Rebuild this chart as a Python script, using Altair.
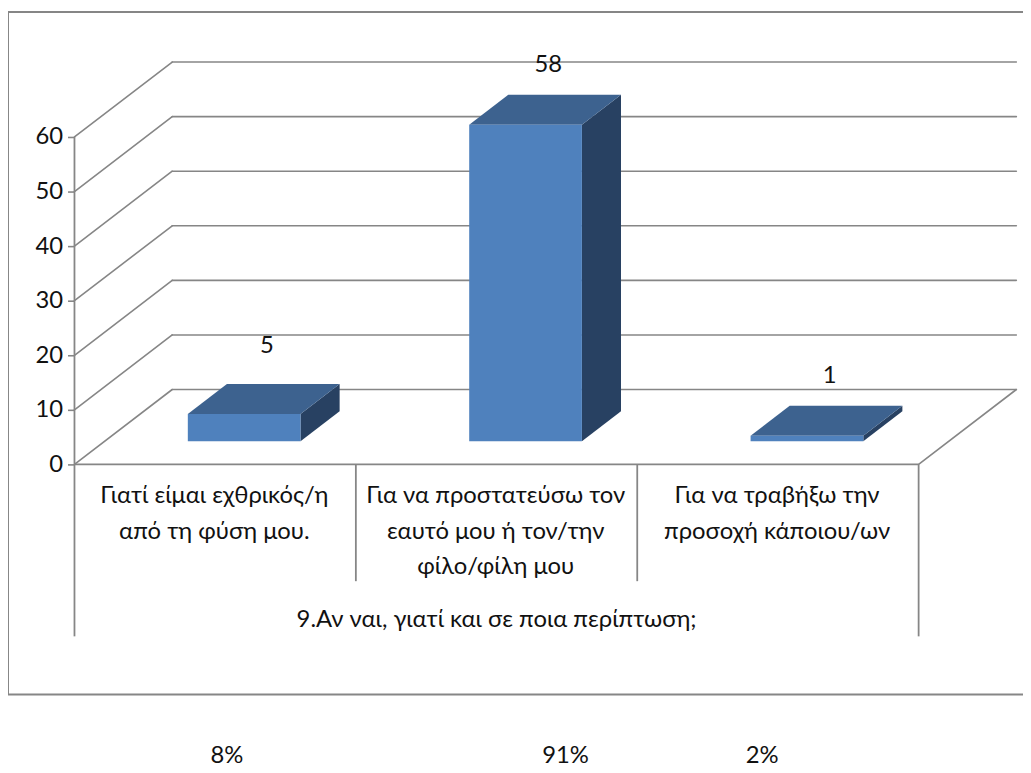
import altair as alt
import pandas as pd

# ---- chart values ----
categories = [
    ["Γιατί είμαι εχθρικός/η", "από τη φύση μου."],
    ["Για να προστατεύσω τον", "εαυτό μου ή τον/την", "φίλο/φίλη μου"],
    ["Για να τραβήξω την", "προσοχή κάποιου/ων"],
]
group_title = "9.Αν ναι, γιατί και σε ποια περίπτωση;"
values = [5, 58, 1]
percents = ["8%", "91%", "2%"]
percent_pos = [0.542, 1.745, 2.444]
y_ticks = [10, 20, 30, 40, 50, 60]

# ---- layout ----
W, H = 1023, 762
PX_CAT = 283.6          # pixels per category
PX_UNIT = 5.5           # pixels per value unit
X0, Y0 = 75, 465        # page position of the front floor origin
FONT = "Lato"
FS = 24
GRAY = "#868686"
INK = "#111111"
label_lift = [51.5, 43, 44]

xdom = [(8 - X0) / PX_CAT, (8 + W - X0) / PX_CAT]
ydom = [(Y0 - (8 + H)) / PX_UNIT, (Y0 - 8) / PX_UNIT]
xs = alt.Scale(domain=xdom, nice=False, zero=False)
ys = alt.Scale(domain=ydom, nice=False, zero=False)

DX = 98.5 / PX_CAT      # whole floor depth, on the x scale
DY = 75.5 / PX_UNIT     # whole floor depth, on the y scale
D0 = 0.31               # depth at which bars start
D1 = 0.71               # depth at which bars end
HALF = 56.8 / PX_CAT    # half a bar's width
CX = -1.3 / PX_CAT      # bar centre shift within the category


def P(x, v, d=0.0):
    return x + DX * d, v + DY * d


x_enc = alt.X("x:Q", scale=xs, axis=None)
y_enc = alt.Y("y:Q", scale=ys, axis=alt.Axis(
    values=[0] + y_ticks, orient="left", offset=-(X0 - 8), domain=False, grid=False,
    tickColor=GRAY, tickSize=7, tickWidth=1.6, title=None,
    labelFont=FONT, labelFontSize=FS, labelColor=INK, labelPadding=5, format="d"))

# grid lines
seg = []
for v in y_ticks:
    a, b, c = P(0, v), P(0, v, 1), P(3, v, 1)
    seg += [dict(x=a[0], y=a[1], x2=b[0], y2=b[1]), dict(x=b[0], y=b[1], x2=c[0], y2=c[1])]
# floor
f = [P(0, 0), P(0, 0, 1), P(3, 0, 1), P(3, 0)]
for p, q in zip(f, f[1:]):
    seg.append(dict(x=p[0], y=p[1], x2=q[0], y2=q[1]))
grid = alt.Chart(pd.DataFrame(seg)).mark_rule(color=GRAY, strokeWidth=1.6, strokeCap="round").encode(
    x=x_enc, x2="x2:Q", y=y_enc, y2="y2:Q")

# front axis line and category separators
ax = [dict(x=0, y=0, x2=3, y2=0), dict(x=0, y=60, x2=0, y2=0)]
for i in range(4):
    ax.append(dict(x=i, y=0, x2=i, y2=-(638.3 - Y0) / PX_UNIT if i in (0, 3) else -(582.7 - Y0) / PX_UNIT))
axis_lines = alt.Chart(pd.DataFrame(ax)).mark_rule(color=GRAY, strokeWidth=1.8).encode(
    x=x_enc, x2="x2:Q", y=y_enc, y2="y2:Q")

# bars
tops, sides, fronts = [], [], []
for i, v in enumerate(values):
    cx = i + 0.5 + CX
    l, r = cx - HALF, cx + HALF
    fronts.append(dict(x=P(l, 0, D0)[0], x2=P(r, 0, D0)[0], y=P(l, 0, D0)[1], y2=P(l, v, D0)[1]))
    for d in (D0, D1):
        xa, ya = P(r, 0, d)
        _, yb = P(r, v, d)
        sides.append(dict(bar=i, x=xa, y=ya, y2=yb))
        xl, yt = P(l, v, d)
        xr, _ = P(r, v, d)
        tops.append(dict(bar=i, y=yt, x=xl, x2=xr))

side = alt.Chart(pd.DataFrame(sides)).mark_area(color="#284162", orient="vertical").encode(
    x=x_enc, y=y_enc, y2="y2:Q", detail="bar:N")
top = alt.Chart(pd.DataFrame(tops)).mark_area(color="#3D628F", orient="horizontal").encode(
    y=y_enc, x=x_enc, x2="x2:Q", detail="bar:N")
front = alt.Chart(pd.DataFrame(fronts)).mark_rect(color="#4F81BD").encode(
    x=x_enc, x2="x2:Q", y=y_enc, y2="y2:Q")

# texts
text_rows = []
for i, lines in enumerate(categories):
    for j, s in enumerate(lines):
        text_rows.append(dict(x=i + 0.5 - 0.003, y=-(497 + j * 35.7 - Y0) / PX_UNIT, t=s))
text_rows.append(dict(x=1.5, y=-(622 - Y0) / PX_UNIT, t=group_title))
for i, v in enumerate(values):
    vx, vy = P(i + 0.5, v, 0.53)
    text_rows.append(dict(x=vx, y=vy + label_lift[i] / PX_UNIT, t=str(v)))
for p, s in zip(percent_pos, percents):
    text_rows.append(dict(x=p, y=-(759 - Y0) / PX_UNIT, t=s))
texts = alt.Chart(pd.DataFrame(text_rows)).mark_text(
    font=FONT, fontSize=FS, color=INK, baseline="middle", align="center").encode(
    x=x_enc, y=y_enc, text="t:N")

# outer frame
fx0, fx1 = xdom
ytop = (Y0 - 9) / PX_UNIT
ybot = -(697 - Y0) / PX_UNIT
fr = [dict(x=fx0, x2=fx1, y=ytop, y2=ytop),
      dict(x=fx0, x2=fx1, y=ybot, y2=ybot),
      dict(x=fx0, x2=fx0, y=ytop, y2=ybot)]
frame = alt.Chart(pd.DataFrame(fr)).mark_rule(color=GRAY, strokeWidth=2).encode(
    x=x_enc, x2="x2:Q", y=y_enc, y2="y2:Q")

chart = alt.layer(frame, grid, axis_lines, side, top, front, texts).properties(
    width=W, height=H,
    padding={"left": 0, "top": 0, "right": 0, "bottom": 0},
    autosize=alt.AutoSizeParams(type="none"),
    background="white",
).configure_view(stroke=None)

chart.save("out.html", embed_options={"renderer": "svg", "actions": False})
